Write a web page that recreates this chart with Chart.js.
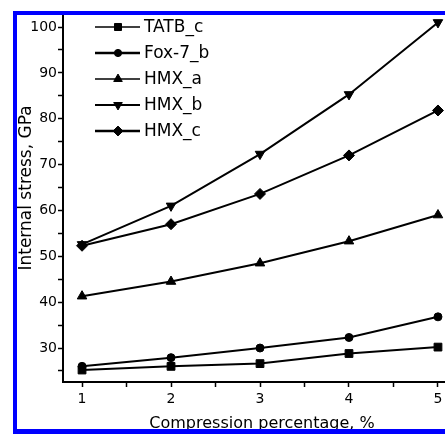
<!DOCTYPE html>
<html>
<head>
<meta charset="utf-8">
<script src="https://cdn.jsdelivr.net/npm/chart.js@4/dist/chart.umd.min.js"></script>
<style>
  html, body { margin: 0; padding: 0; background: #fff; overflow: hidden; }
  canvas { display: block; }
</style>
</head>
<body>
<canvas id="myChart" width="445" height="434"></canvas>
<script>
// compression percentage, %
const compression = [1, 2, 3, 4, 5];

// internal stress, GPa
const tatbC  = [25.2, 26.0, 26.6, 28.8, 30.2];
const fox7B  = [26.0, 27.9, 30.0, 32.3, 36.8];
const hmxA   = [41.3, 44.5, 48.5, 53.3, 59.0];
const hmxB   = [52.6, 61.0, 72.3, 85.3, 101.0];
const hmxC   = [52.3, 57.0, 63.6, 72.0, 81.8];

const seriesNames = ['TATB_c', 'Fox-7_b', 'HMX_a', 'HMX_b', 'HMX_c'];

const FONT = 'DejaVu Sans';

function pts(vals) {
  return compression.map((x, i) => ({ x: x, y: vals[i] }));
}

function ds(label, vals, style, radius, rotation, legendWidth) {
  return {
    label: label,
    data: pts(vals),
    borderColor: '#000',
    backgroundColor: '#000',
    borderWidth: 2,
    pointStyle: style,
    pointRadius: radius,
    pointHoverRadius: radius,
    pointRotation: rotation,
    pointBackgroundColor: '#000',
    pointBorderColor: '#000',
    pointBorderWidth: 1,
    tension: 0,
    clip: false,
    legendWidth: legendWidth
  };
}

const data = {
  datasets: [
    ds(seriesNames[0], tatbC, 'rect', 5.5, 0, 1.5),
    ds(seriesNames[1], fox7B, 'circle', 4, 0, 2.5),
    ds(seriesNames[2], hmxA, 'triangle', 5.5, 0, 1.5),
    ds(seriesNames[3], hmxB, 'triangle', 5.5, 180, 2),
    ds(seriesNames[4], hmxC, 'rectRot', 5.5, 0, 2.5)
  ]
};

// legend with a line through the marker, plus titles and the blue frame
const extras = {
  id: 'extras',
  afterDraw(chart) {
    const ctx = chart.ctx;
    ctx.save();

    // legend
    ctx.font = '17px "' + FONT + '"';
    ctx.textBaseline = 'middle';
    ctx.textAlign = 'left';
    chart.data.datasets.forEach((d, i) => {
      const y = 27 + i * 26;
      ctx.strokeStyle = '#000';
      ctx.lineWidth = d.legendWidth;
      ctx.beginPath();
      ctx.moveTo(95, y);
      ctx.lineTo(140, y);
      ctx.stroke();
      ctx.fillStyle = '#000';
      if (Chart.helpers && Chart.helpers.drawPoint) {
        ctx.lineWidth = 1;
        Chart.helpers.drawPoint(ctx, {
          pointStyle: d.pointStyle,
          radius: d.pointRadius * 0.9,
          rotation: d.pointRotation,
          borderWidth: 1
        }, 118, y);
      }
      ctx.fillStyle = '#000';
      ctx.fillText(d.label, 144, y + 1);
    });

    // axis titles
    ctx.font = '17px "' + FONT + '"';
    ctx.textAlign = 'center';
    ctx.save();
    ctx.translate(27, 188);
    ctx.rotate(-Math.PI / 2);
    ctx.fillText('Internal stress, GPa', 0, 0);
    ctx.restore();
    ctx.font = '16px "' + FONT + '"';
    ctx.fillText('Compression percentage, %', 262, 424);

    // blue frame
    ctx.fillStyle = '#0000ff';
    ctx.fillRect(13, 11, 445 - 13, 4);
    ctx.fillRect(13, 11, 4, 434 - 11);
    ctx.fillRect(13, 429, 445 - 13, 5);
    ctx.restore();
  }
};

const config = {
  type: 'line',
  data,
  options: {
    responsive: false,
    animation: false,
    devicePixelRatio: 1,
    layout: { autoPadding: false, padding: { top: 15, left: 0, right: 0, bottom: 0 } },
    scales: {
      x: {
        type: 'linear',
        min: 0.786,
        max: 5.079,
        afterFit: s => { s.height = 52; s.paddingLeft = 0; s.paddingRight = 0; },
        border: { display: true, color: '#000', width: 2 },
        grid: {
          drawOnChartArea: false,
          drawTicks: true,
          tickLength: 5,
          tickColor: '#000',
          tickWidth: 1.5
        },
        ticks: {
          stepSize: 0.5,
          includeBounds: false,
          autoSkip: false,
          maxRotation: 0,
          padding: 4,
          color: '#000',
          font: { family: FONT, size: 14 },
          callback: v => Number.isInteger(v) ? String(v) : ''
        }
      },
      y: {
        min: 22.59,
        max: 102.62,
        afterFit: s => { s.width = 63; s.paddingTop = 0; s.paddingBottom = 0; },
        border: { display: true, color: '#000', width: 2 },
        grid: {
          drawOnChartArea: false,
          drawTicks: true,
          tickLength: 5,
          tickColor: '#000',
          tickWidth: 1.5
        },
        ticks: {
          stepSize: 5,
          includeBounds: false,
          autoSkip: false,
          padding: 1,
          color: '#000',
          font: { family: FONT, size: 14 },
          callback: v => (v % 10 === 0) ? String(v) : ''
        }
      }
    },
    plugins: {
      legend: { display: false },
      tooltip: { enabled: false }
    }
  },
  plugins: [extras]
};

const myChart = new Chart(document.getElementById('myChart'), config);
</script>
</body>
</html>
